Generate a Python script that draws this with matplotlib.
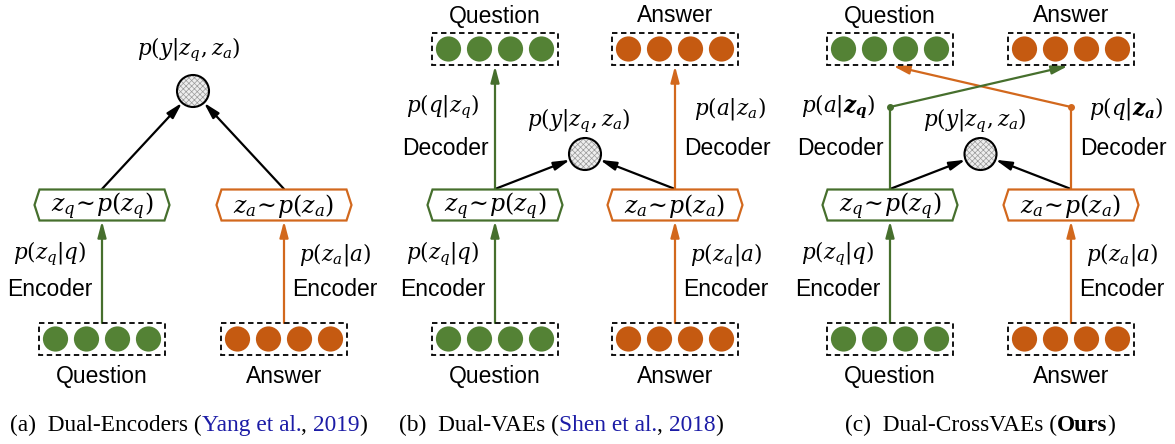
import matplotlib.pyplot as plt
from matplotlib.patches import Circle, Rectangle, Polygon, FancyArrowPatch
import numpy as np

plt.rcParams['mathtext.fontset'] = 'dejavuserif'

# ---- diagram content ----
panel_names = ['a', 'b', 'c']
has_decoder = [False, True, True]
is_cross = [False, False, True]
n_tokens = 4
q_name = 'Question'
a_name = 'Answer'
enc_name = 'Encoder'
dec_name = 'Decoder'
latent_q = r'$z_q\!\sim\!p(z_q)$'
latent_a = r'$z_a\!\sim\!p(z_a)$'
match_label = r'$p(y|z_q,z_a)$'
enc_q_label = r'$p(z_q|q)$'
enc_a_label = r'$p(z_a|a)$'
dec_q_labels = [None, r'$p(q|z_q)$', r'$p(a|\mathbfit{z}_\mathbfit{q})$']
dec_a_labels = [None, r'$p(a|z_a)$', r'$p(q|\mathbfit{z}_\mathbfit{a})$']
caption_parts = [
    [('(a)  Dual-Encoders (', 'k', 'normal'), ('Yang et al.', 'cite', 'normal'),
     (', ', 'k', 'normal'), ('2019', 'cite', 'normal'), (')', 'k', 'normal')],
    [('(b)  Dual-VAEs (', 'k', 'normal'), ('Shen et al.', 'cite', 'normal'),
     (', ', 'k', 'normal'), ('2018', 'cite', 'normal'), (')', 'k', 'normal')],
    [('(c)  Dual-CrossVAEs (', 'k', 'normal'), ('Ours', 'k', 'bold'), (')', 'k', 'normal')],
]

# ---- style / layout ----
G_DOT, G_LINE = '#548235', '#466f2d'
O_DOT, O_LINE = '#c55a11', '#d2681d'
CITE = '#1c1ca6'
left_x = [102, 495, 890]
right_x = [284, 675, 1071]
caption_x0 = [10, 399, 845]
circle_y = [91, 154, 154]

fig = plt.figure(figsize=(11.75, 4.44), dpi=100)
ax = fig.add_axes([0, 0, 1, 1])
ax.set_xlim(0, 1175)
ax.set_ylim(444, 0)
ax.axis('off')


def arrow(p0, p1, color, lw=1.6):
    ax.add_patch(FancyArrowPatch(p0, p1, arrowstyle='-|>,head_length=0.6,head_width=0.16',
                                 mutation_scale=16, color=color, lw=lw,
                                 shrinkA=0, shrinkB=0, zorder=2))


def token_box(cx, cy, color):
    ax.add_patch(Rectangle((cx - 63, cy - 16), 126, 32, fill=False, ec='k', lw=1.3,
                           ls=(0, (3, 2)), zorder=3))
    for i in range(n_tokens):
        ax.add_patch(Circle((cx + (i - 1.5) * 31, cy), 12.6, color=color, lw=0, zorder=3))


def hexbox(cx, cy, color, text):
    w, h, n = 135, 31, 5
    x0, x1 = cx - w / 2, cx + w / 2
    pts = [(x0, cy), (x0 + n, cy - h / 2), (x1 - n, cy - h / 2), (x1, cy),
           (x1 - n, cy + h / 2), (x0 + n, cy + h / 2)]
    ax.add_patch(Polygon(pts, closed=True, fc='white', ec=color, lw=1.6, zorder=3))
    ax.text(cx, cy + 1, text, ha='center', va='center', fontsize=17, zorder=4)


def match_node(cx, cy):
    r = 16
    ax.add_patch(Circle((cx, cy), r, fc='#eeeeee', ec='#9a9a9a', hatch='xxxxxx', lw=0, zorder=3))
    ax.add_patch(Circle((cx, cy), r, fill=False, ec='k', lw=1.5, zorder=4))
    return r


plt.rcParams['hatch.linewidth'] = 0.5
sans = 'Liberation Sans'
HEX_Y, TOK_Y, TOP_Y = 205, 339, 49
FS_SANS, FS_MATH = 16.5, 15.5

for k in range(3):
    L, R = left_x[k], right_x[k]
    # bottom inputs and encoders
    token_box(L, TOK_Y, G_DOT)
    token_box(R, TOK_Y, O_DOT)
    ax.text(L, 376, q_name, ha='center', va='center', fontsize=FS_SANS, family=sans)
    ax.text(R, 376, a_name, ha='center', va='center', fontsize=FS_SANS, family=sans)
    arrow((L, TOK_Y - 16), (L, HEX_Y + 16), G_LINE)
    arrow((R, TOK_Y - 16), (R, HEX_Y + 16), O_LINE)
    ax.text(L - 52, 254, enc_q_label, ha='center', va='center', fontsize=FS_MATH)
    ax.text(R + 51, 254, enc_a_label, ha='center', va='center', fontsize=FS_MATH)
    ax.text(L - 52, 289, enc_name, ha='center', va='center', fontsize=FS_SANS, family=sans)
    ax.text(R + 51, 289, enc_name, ha='center', va='center', fontsize=FS_SANS, family=sans)
    hexbox(L, HEX_Y, G_LINE, latent_q)
    hexbox(R, HEX_Y, O_LINE, latent_a)

    # matching node
    cx, cy = (L + R) / 2, circle_y[k]
    r = match_node(cx, cy)
    for sx in (L, R):
        d = np.array([cx - sx, cy - (HEX_Y - 16)])
        end = np.array([cx, cy]) - d / np.hypot(*d) * r
        arrow((sx, HEX_Y - 16), tuple(end), 'k')
    if k == 0:
        ax.text(cx - 4, 50, match_label, ha='center', va='center', fontsize=FS_MATH)
    else:
        ax.text(cx - 6, 121, match_label, ha='center', va='center', fontsize=FS_MATH)

    # decoders
    if has_decoder[k]:
        token_box(L, TOP_Y, G_DOT)
        token_box(R, TOP_Y, O_DOT)
        ax.text(L, 16, q_name, ha='center', va='center', fontsize=FS_SANS, family=sans)
        ax.text(R, 16, a_name, ha='center', va='center', fontsize=FS_SANS, family=sans)
        ax.text(L - 52, 107, dec_q_labels[k], ha='center', va='center', fontsize=FS_MATH)
        ax.text(R + 55, 108, dec_a_labels[k], ha='center', va='center', fontsize=FS_MATH)
        ax.text(L - 50, 148, dec_name, ha='center', va='center', fontsize=FS_SANS, family=sans)
        ax.text(R + 52, 148, dec_name, ha='center', va='center', fontsize=FS_SANS, family=sans)
        if is_cross[k]:
            ax.plot([L, L], [HEX_Y - 16, 107], color=G_LINE, lw=1.6, zorder=2)
            ax.plot([R, R], [HEX_Y - 16, 107], color=O_LINE, lw=1.6, zorder=2)
            ax.plot([L], [107], 'o', color=G_LINE, ms=4, zorder=3)
            ax.plot([R], [107], 'o', color=O_LINE, ms=4, zorder=3)
            arrow((R, 107), (L + 3, TOP_Y + 17), O_LINE)
            arrow((L, 107), (R - 3, TOP_Y + 17), G_LINE)
        else:
            arrow((L, HEX_Y - 16), (L, TOP_Y + 17), G_LINE)
            arrow((R, HEX_Y - 16), (R, TOP_Y + 17), O_LINE)

# captions, drawn piece by piece so the citations can be coloured
fig.canvas.draw()
renderer = fig.canvas.get_renderer()
inv = ax.transData.inverted()
for k in range(3):
    x = caption_x0[k]
    for txt, col, wt in caption_parts[k]:
        t = ax.text(x, 431, txt, ha='left', va='baseline', fontsize=16.8,
                    family='Liberation Serif', weight=wt,
                    color=CITE if col == 'cite' else col)
        bb = t.get_window_extent(renderer)
        x = inv.transform((bb.x1, bb.y0))[0]

fig.savefig('out.png', dpi=100)
